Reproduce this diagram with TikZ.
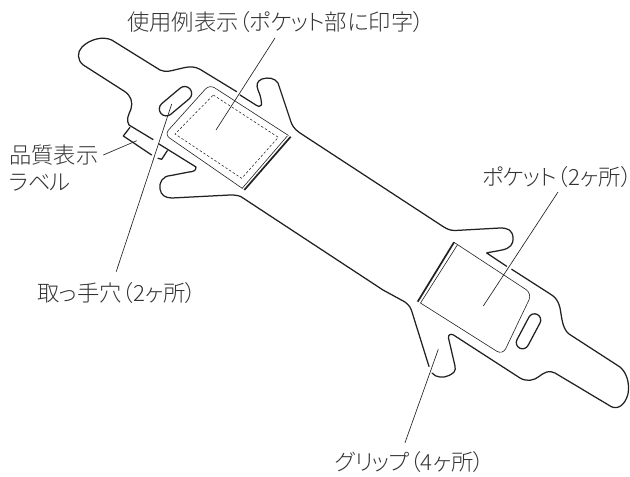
\documentclass[tikz,border=0pt]{standalone}
\usepackage{fontspec}
\usetikzlibrary{shapes.misc}
\newfontfamily\jpfont[RawFeature={+palt}]{Noto Sans CJK JP Light}
\newcommand{\kn}[1]{{\addfontfeature{LetterSpace=-3}#1}}
\definecolor{ink}{gray}{0.13}
\definecolor{txt}{gray}{0.2}
\tikzset{
  outline/.style={draw=ink,line width=1.25pt,line join=round,line cap=round},
  thin/.style={draw=ink,line width=0.6pt,line join=round},
  fold/.style={draw=ink,line width=1.7pt},
  stitch/.style={draw=ink,line width=0.55pt,dash pattern=on 2.4pt off 2pt},
  leader/.style={draw=ink,line width=0.65pt},
  hole/.style={draw=ink,line width=1.25pt,rounded rectangle,inner sep=0pt,fill=white},
  lab/.style={font=\jpfont\fontsize{22.3}{26}\selectfont,text=txt,inner sep=0pt,anchor=west}
}
\begin{document}
\begin{tikzpicture}[x=1pt,y=-1pt]
\useasboundingbox (0,0) rectangle (630,477);
% outline
\draw[outline]
 (236.7,91.7) -- (200,69.3) .. controls (195,66.5) and (190,66.5) .. (185,67.5)
 -- (170,71) .. controls (166,71.6) and (163,71.5) .. (160,70)
 -- (111.7,40) .. controls (103,36) and (90,39) .. (82,47)
 .. controls (77,52) and (77,60) .. (83.3,65)
 -- (125,91.7) .. controls (131,96) and (133,102) .. (131,109)
 .. controls (128,116) and (126,120) .. (129,125)
 -- (153,139.5);
\draw[outline]
 (159,144) -- (196,167) .. controls (196,171) and (193,171.7) .. (189,172)
 -- (171,175.5) .. controls (162,176) and (159,183) .. (160,189)
 .. controls (161,195) and (165,198) .. (172,198)
 -- (230,195) .. controls (236,195) and (240,195.5) .. (243,198)
 -- (383,290) -- (405,302) .. controls (409,305) and (411,308) .. (412,312)
 -- (429,366.5);
\draw[outline]
 (432,373) .. controls (436,378) and (444,378) .. (449,375.5)
 .. controls (454,373) and (456,371) .. (455,366)
 -- (448.5,338) .. controls (448,334.5) and (451,333.5) .. (453.5,335)
 -- (520,378) .. controls (527,382) and (534,380.5) .. (539,376.5)
 .. controls (545,372) and (549,370) .. (555,373)
 -- (611,406.5) .. controls (618,410) and (625,405) .. (628,394)
 .. controls (630,382) and (626,372) .. (620,367)
 -- (569,334) .. controls (562,328) and (562,318) .. (560,308)
 .. controls (558,300) and (555,297) .. (551,294.5)
 -- (511.7,269.3);
\draw[outline]
 (506.7,266.3) -- (486.7,253) .. controls (490,252) and (495,251.5) .. (502,250)
 .. controls (510,248.5) and (514,244) .. (513,237)
 .. controls (512,230) and (508,228) .. (500,228)
 -- (455,230.5) .. controls (450,230.5) and (447,229) .. (443,226.5)
 -- (300,133) .. controls (294,129) and (292,125) .. (291,122)
 -- (278,83) .. controls (275,78) and (268,77) .. (262,79)
 .. controls (257,81) and (256,85) .. (258,90)
 .. controls (261,96) and (261.5,102) .. (261.5,105)
 .. controls (260,107) and (258,106.5) .. (256.7,105.5)
 -- (240,95);
% quality label
\draw[outline] (130,127.3) -- (123.3,136) -- (151.7,155);
\draw[outline] (158,158.3) -- (161.7,159.3) -- (167.3,150.7);
% left pocket
\draw[thin,rounded corners=6pt] (288.5,135.5) -- (209.5,84.5) -- (164.5,134.5) -- (242.5,188.5);
\draw[stitch] (213.3,95) -- (278.3,137.3) -- (241.7,178.3) -- (175,134) -- cycle;
\draw[fold] (290.7,136.7) -- (244.3,190);
\draw[thin] (287.3,136) -- (242.2,188.3);
% right pocket
\draw[thin,rounded corners=7pt] (454,242.3) -- (532,293.5) -- (502.7,355) -- (420,302.7);
\draw[fold] (454,242.3) -- (417.7,301.7);
\draw[thin] (457.3,245) -- (420.7,302.7);
% holes
\node[hole,minimum width=38pt,minimum height=14pt,rotate=40] (h1) at (175.5,101.2) {};
\node[hole,minimum width=38pt,minimum height=12.5pt,rotate=62] (h2) at (528.5,331.3) {};
% labels
\node[lab] (t1) at (127,22) {使用例表示（\kn{ポケット}部に印字）};
\node[lab] (t2) at (9,155) {品質表示};
\node[lab] (t3) at (9,183) {\kn{ラベル}};
\node[lab] (t4) at (37,293) {取っ手穴（2ヶ所）};
\node[lab] (t5) at (482,177) {\kn{ポケット}（2ヶ所）};
\node[lab] (t6) at (335,462) {\kn{グリップ}（4ヶ所）};
% leaders
\coordinate (a1) at (275,38); \coordinate (b1) at (216,130);
\coordinate (a2) at (103.3,155); \coordinate (b2) at (136.7,140.7);
\coordinate (a4) at (116.2,271.7); \coordinate (b4) at (171.7,104);
\coordinate (a5) at (558,192); \coordinate (b5) at (483.3,306);
\coordinate (a6) at (405,442.7); \coordinate (b6) at (438.3,349.3);
\draw[leader] (a1) -- (b1);
\draw[leader] (a2) -- (b2);
\draw[leader] (a4) -- (b4);
\draw[leader] (a5) -- (b5);
\draw[leader] (a6) -- (b6);
\end{tikzpicture}
\end{document}
